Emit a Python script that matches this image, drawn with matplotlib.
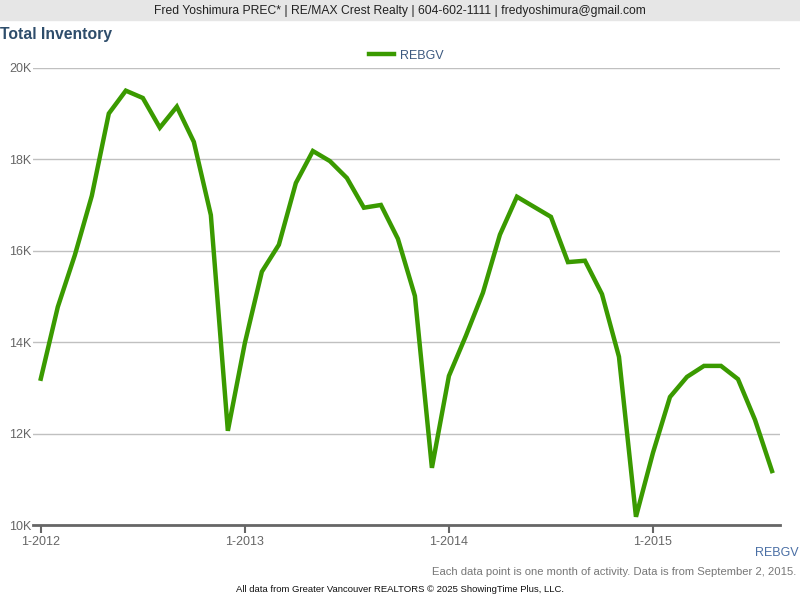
import numpy as np
import matplotlib.pyplot as plt

# monthly total inventory, Jan 2012 - Aug 2015
months = np.arange(44)
inventory = [13.2, 14.77, 15.9, 17.2, 19.0, 19.5, 19.34, 18.69, 19.15, 18.38, 16.78, 12.06,
             13.98, 15.54, 16.13, 17.48, 18.18, 17.96, 17.59, 16.94, 17.0, 16.26, 15.01, 11.25,
             13.26, 14.14, 15.08, 16.35, 17.18, 16.96, 16.74, 15.75, 15.78, 15.05, 13.68, 10.18,
             11.58, 12.8, 13.24, 13.48, 13.48, 13.19, 12.3, 11.18]
tick_pos = [0, 12, 24, 36]
tick_labels = ["1-2012", "1-2013", "1-2014", "1-2015"]
y_ticks = [10, 12, 14, 16, 18, 20]

plt.rcParams['font.family'] = ['Liberation Sans', 'DejaVu Sans']

fig = plt.figure(figsize=(8, 6), dpi=100)
ax = fig.add_axes([0.041, 0.125, 0.934, 0.762])

ax.plot(months, np.array(inventory) * 1000, color="#3a9a00", lw=3.2, label="REBGV",
        solid_joinstyle="miter")
ax.set_xlim(-0.47, 43.47)
ax.set_ylim(10000, 20000)
ax.set_yticks([v * 1000 for v in y_ticks])
ax.set_yticklabels([f"{v}K" for v in y_ticks])
ax.set_xticks(tick_pos)
ax.set_xticklabels(tick_labels)
ax.grid(axis="y", color="#c0c0c0", lw=1)
ax.set_axisbelow(True)
for s in ["top", "right", "left"]:
    ax.spines[s].set_visible(False)
ax.spines["bottom"].set_color("#666666")
ax.spines["bottom"].set_linewidth(2)
ax.tick_params(axis="y", length=0, labelsize=9, labelcolor="#666666", pad=1)
ax.tick_params(axis="x", length=6, width=1.5, color="#666666", labelsize=9,
               labelcolor="#666666", pad=2)

ax.legend(loc="lower center", bbox_to_anchor=(0.5, 1.0), frameon=False, fontsize=9,
          labelcolor="#3d5a80", handlelength=2.0, handletextpad=0.5, borderaxespad=0.1)

# header band
fig.patches.append(plt.Rectangle((0, 1 - 20 / 600), 1, 20 / 600, transform=fig.transFigure,
                                 color="#e6e6e6", zorder=0))
fig.text(0.5, 1 - 11 / 600, "Fred Yoshimura PREC* | RE/MAX Crest Realty | 604-602-1111 | fredyoshimura@gmail.com",
         ha="center", va="center", fontsize=8.7, color="#222222")
fig.text(0.0, 1 - 35 / 600, "Total Inventory", ha="left", va="center", fontsize=11.3,
         fontweight="bold", color="#2e4d6b")

fig.text(0.998, 1 - 553 / 600, "REBGV", ha="right", va="center", fontsize=9, color="#4a6fa5")
fig.text(0.996, 1 - 572 / 600, "Each data point is one month of activity. Data is from September 2, 2015.",
         ha="right", va="center", fontsize=8.1, color="#777777")
fig.text(0.5, 1 - 590 / 600, "All data from Greater Vancouver REALTORS \u00a9 2025 ShowingTime Plus, LLC.",
         ha="center", va="center", fontsize=6.8, color="#111111")

fig.savefig("out.png", dpi=100)
